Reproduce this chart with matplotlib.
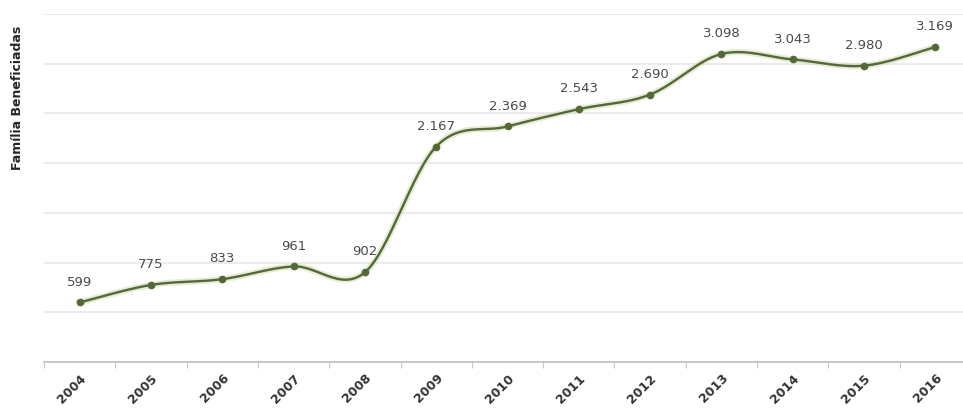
import numpy as np
import matplotlib.pyplot as plt

# Data
anos = ["2004", "2005", "2006", "2007", "2008", "2009", "2010",
        "2011", "2012", "2013", "2014", "2015", "2016"]
familias = [599, 775, 833, 961, 902, 2167, 2369, 2543, 2690, 3098, 3043, 2980, 3169]
rotulos = ["599", "775", "833", "961", "902", "2.167", "2.369",
           "2.543", "2.690", "3.098", "3.043", "2.980", "3.169"]


def smooth(x, y, n=30):
    # Excel-like smoothed line: cubic Bezier segments through each point
    x = np.asarray(x, float)
    y = np.asarray(y, float)
    px = np.concatenate([[x[0]], x, [x[-1]]])
    py = np.concatenate([[y[0]], y, [y[-1]]])
    xs, ys = [], []
    t = np.linspace(0, 1, n)
    for i in range(len(x) - 1):
        p0 = np.array([px[i + 1], py[i + 1]])
        p3 = np.array([px[i + 2], py[i + 2]])
        c1 = p0 + (np.array([px[i + 2], py[i + 2]]) - np.array([px[i], py[i]])) / 6
        c2 = p3 - (np.array([px[i + 3], py[i + 3]]) - np.array([px[i + 1], py[i + 1]])) / 6
        b = ((1 - t) ** 3)[:, None] * p0 + (3 * (1 - t) ** 2 * t)[:, None] * c1 \
            + (3 * (1 - t) * t ** 2)[:, None] * c2 + (t ** 3)[:, None] * p3
        xs.append(b[:, 0])
        ys.append(b[:, 1])
    return np.concatenate(xs), np.concatenate(ys)


fig = plt.figure(figsize=(9.63, 4.12), dpi=100)
ax = fig.add_axes([44 / 963, 50 / 412, 927 / 963, 348 / 412])

x = np.arange(len(anos))
sx, sy = smooth(x, familias)
ax.plot(sx, sy, color="#d3e0bb", lw=4.5, alpha=0.6, zorder=2)
ax.plot(sx, sy, color="#556838", lw=1.7, zorder=3)
ax.plot(x, familias, "o", color="#556838", ms=4.5, zorder=4)

for xi, yi, lab in zip(x, familias, rotulos):
    ax.annotate(lab, (xi, yi), xytext=(0, 10), textcoords="offset points",
                ha="center", va="bottom", fontsize=9.5, color="#4a4a4a")

ax.set_xlim(-0.5, len(anos) - 0.5)
ax.set_ylim(0, 3500)
ax.set_yticks(np.arange(0, 3501, 500))
ax.set_yticklabels([])
ax.tick_params(axis="y", length=0)
ax.grid(axis="y", color="#ebebeb", lw=1.5)
ax.set_axisbelow(True)

ax.set_xticks(np.arange(-0.5, len(anos), 1), minor=False)
ax.set_xticklabels([])
ax.set_xticks(x, minor=True)
ax.set_xticklabels(anos, minor=True, rotation=45, ha="right", va="top",
                   rotation_mode="anchor", fontsize=9, fontweight="bold",
                   color="#333333")
ax.tick_params(axis="x", which="major", length=4, color="#c8c8c8")
ax.tick_params(axis="x", which="minor", length=0, pad=7)

for s in ["top", "right", "left"]:
    ax.spines[s].set_visible(False)
ax.spines["bottom"].set_color("#c0c0c0")
ax.spines["bottom"].set_linewidth(1.2)

ax.set_ylabel("Família Beneficiadas", fontsize=9, fontweight="bold", color="#262626")
ax.yaxis.set_label_coords(-0.022, 0.76)

fig.savefig("out.png", dpi=100)
